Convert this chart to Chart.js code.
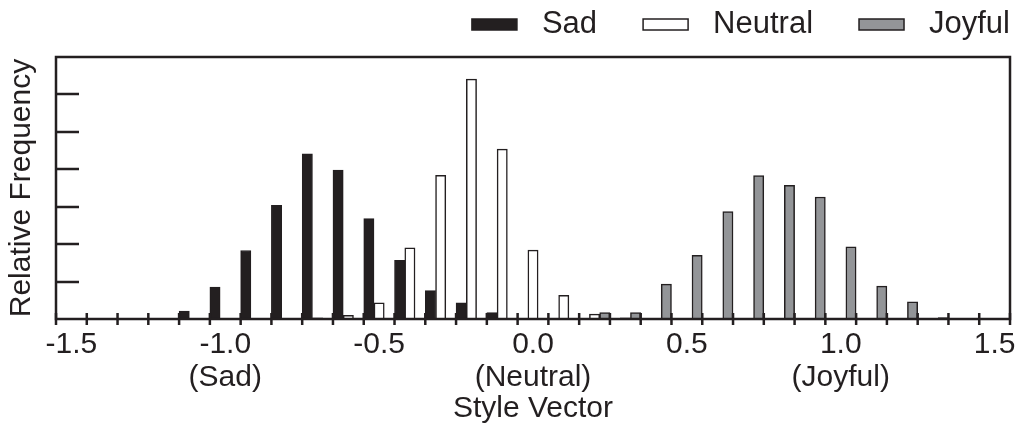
<!DOCTYPE html>
<html>
<head>
<meta charset="utf-8">
<script src="https://cdn.jsdelivr.net/npm/chart.js@4/dist/chart.umd.min.js"></script>
<style>
    html, body { margin: 0; padding: 0; background: #fff; }
    canvas { display: block; }
</style>
</head>
<body>
<canvas id="hist" width="1017" height="435"></canvas>
<script>
// histogram bins of the style vector (bin centres)
const bins = ['-1.5', '-1.4', '-1.3', '-1.2', '-1.1', '-1.0', '-0.9', '-0.8', '-0.7', '-0.6',
              '-0.5', '-0.4', '-0.3', '-0.2', '-0.1', '0.0', '0.1', '0.2', '0.3', '0.4',
              '0.5', '0.6', '0.7', '0.8', '0.9', '1.0', '1.1', '1.2', '1.3', '1.4', '1.5'];

const sad     = [0, 0, 0, 0.02, 0.21, 0.85, 1.83, 3.04, 4.41, 3.98,
                 2.68, 1.57, 0.76, 0.43, 0.17, 0, 0, 0, 0, 0,
                 0, 0, 0, 0, 0, 0, 0, 0, 0, 0, 0];
const neutral = [0, 0, 0, 0, 0, 0, 0, 0, 0.03, 0.10,
                 0.43, 1.90, 3.84, 6.41, 4.54, 1.84, 0.63, 0.13, 0.03, 0,
                 0, 0, 0, 0, 0, 0, 0, 0, 0, 0, 0];
const joyful  = [0, 0, 0, 0, 0, 0, 0, 0, 0, 0,
                 0, 0, 0, 0, 0, 0, 0, 0.17, 0.17, 0.93,
                 1.70, 2.87, 3.83, 3.57, 3.26, 1.93, 0.88, 0.46, 0.04, 0.01, 0];

// labelled ticks on the x axis and the emotion written under some of them
const majorTicks = ['-1.5', '-1.0', '-0.5', '0.0', '0.5', '1.0', '1.5'];
const tickNotes  = ['', '(Sad)', '', '(Neutral)', '', '(Joyful)', ''];

const INK = '#231f20';
const FONT = '"Liberation Sans", Arial, Helvetica, sans-serif';

// box round the plot, inward y ticks and x ticks at the bin edges
const axisFrame = {
    id: 'axisFrame',
    afterDatasetsDraw(chart) {
        const {ctx, chartArea: a, scales: {x, y}} = chart;
        ctx.save();
        ctx.strokeStyle = INK;
        ctx.lineWidth = 2.5;

        ctx.beginPath();
        y.ticks.forEach(t => {
            if (t.value <= y.min || t.value >= y.max) return;
            const py = Math.round(y.getPixelForValue(t.value));
            ctx.moveTo(a.left, py);
            ctx.lineTo(a.left + 23, py);
        });
        const half = (x.getPixelForValue(1) - x.getPixelForValue(0)) / 2;
        for (let i = 0; i <= bins.length; i++) {
            const px = x.getPixelForValue(i) - half;
            ctx.moveTo(px, a.bottom - 6);
            ctx.lineTo(px, a.bottom + 6);
        }
        ctx.stroke();

        ctx.strokeRect(a.left, a.top, a.right - a.left, a.bottom - a.top);
        ctx.restore();
    }
};

// legend row above the plot, right aligned with the frame
const topLegend = {
    id: 'topLegend',
    afterDraw(chart) {
        const {ctx, chartArea: a} = chart;
        const items = chart.data.datasets.slice().reverse();
        ctx.save();
        ctx.font = '31px ' + FONT;
        ctx.textBaseline = 'middle';
        ctx.textAlign = 'left';
        let xr = a.right;
        const cy = 24;
        items.forEach(ds => {
            const tw = ctx.measureText(ds.label).width;
            const tx = xr - tw;
            ctx.fillStyle = INK;
            ctx.fillText(ds.label, tx, cy);
            const bx = tx - 25 - 45;
            ctx.fillStyle = ds.backgroundColor;
            ctx.fillRect(bx, cy - 5, 45, 11);
            ctx.strokeStyle = INK;
            ctx.lineWidth = 1.5;
            ctx.strokeRect(bx, cy - 5, 45, 11);
            xr = bx - 46;
        });
        ctx.restore();
    }
};

new Chart(document.getElementById('hist'), {
    type: 'bar',
    data: {
        labels: bins,
        datasets: [
            { label: 'Sad', data: sad, backgroundColor: INK, borderColor: INK, borderWidth: 1 },
            { label: 'Neutral', data: neutral, backgroundColor: '#ffffff', borderColor: INK, borderWidth: 1.5 },
            { label: 'Joyful', data: joyful, backgroundColor: '#939598', borderColor: INK, borderWidth: 1.5 }
        ]
    },
    options: {
        responsive: false,
        animation: false,
        devicePixelRatio: 1,
        layout: { padding: { top: 57, right: 7, left: 0, bottom: 0 } },
        datasets: {
            bar: { barPercentage: 1.0, categoryPercentage: 1.0 }
        },
        plugins: {
            legend: { display: false },
            tooltip: { enabled: false }
        },
        scales: {
            x: {
                type: 'category',
                grid: { display: false },
                border: { display: false },
                ticks: {
                    autoSkip: false,
                    maxRotation: 0,
                    minRotation: 0,
                    padding: 1,
                    color: INK,
                    font: { family: FONT, size: 30, lineHeight: 1.1 },
                    callback(value) {
                        const label = this.getLabelForValue(value);
                        const i = majorTicks.indexOf(label);
                        if (i < 0) return '';
                        return tickNotes[i] ? [label, tickNotes[i]] : label;
                    }
                },
                title: {
                    display: true,
                    text: 'Style Vector',
                    color: INK,
                    font: { family: FONT, size: 30, lineHeight: 1.2 },
                    padding: { top: 0, bottom: 8 }
                },
                afterFit(scale) {
                    scale.height = 116;
                    scale.paddingLeft = 0;
                    scale.paddingRight = 0;
                }
            },
            y: {
                min: 0,
                max: 7,
                ticks: { display: false, stepSize: 1 },
                grid: { display: false },
                border: { display: false },
                title: {
                    display: true,
                    text: 'Relative Frequency',
                    color: INK,
                    font: { family: FONT, size: 30, lineHeight: 1.2 },
                    padding: { top: 4, bottom: 0 }
                },
                afterFit(scale) { scale.width = 56; }
            }
        }
    },
    plugins: [axisFrame, topLegend]
});
</script>
</body>
</html>
